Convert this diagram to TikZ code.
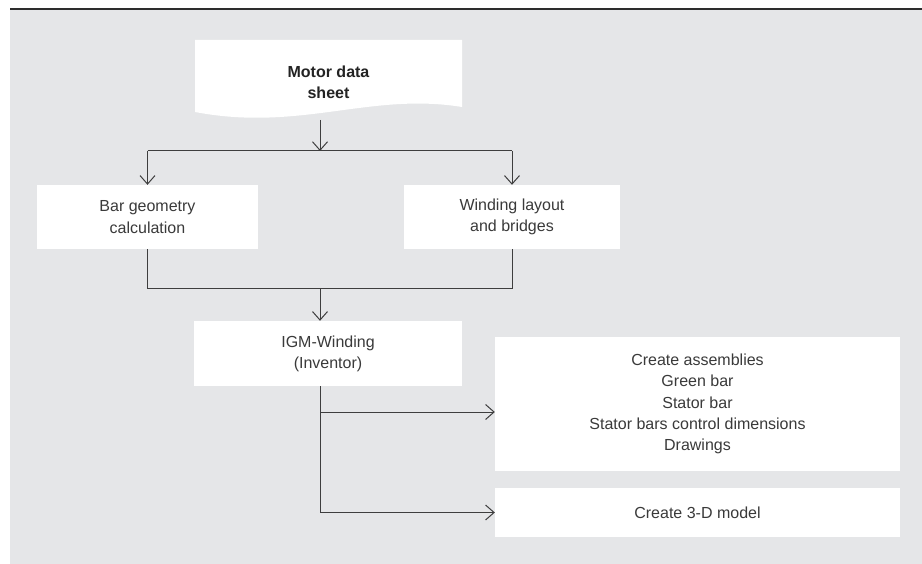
\documentclass[tikz,border=0pt]{standalone}
\usepackage{fontspec}
\setmainfont{Liberation Sans}
\usetikzlibrary{arrows.meta}
\definecolor{panel}{RGB}{229,230,232}
\definecolor{ink}{RGB}{62,62,62}
\definecolor{txt}{RGB}{58,58,58}
\definecolor{rule}{RGB}{45,45,45}
\begin{document}
\begin{tikzpicture}[x=1pt,y=-1pt,
  box/.style={fill=white, draw=none, inner sep=0pt, align=center,
    font=\fontsize{16}{21.25}\selectfont, text=txt},
  link/.style={draw=ink, line width=1pt},
  flow/.style={link, -{Straight Barb[length=8.5pt,width=15pt,line width=1pt]}}]
\useasboundingbox (0,0) rectangle (922,564);
% panel and top rule
\fill[panel] (10,9) rectangle (922,564);
\draw[rule, line width=1.6pt] (10,9) -- (922,9);

% document-shaped input with a wavy lower edge
\fill[white] (195,40) -- (462,40) -- (462,107)
  .. controls (370,92) and (300,132) .. (195,112) -- cycle;
\node[box, fill=none, font=\bfseries\fontsize{16}{21.25}\selectfont, text={rgb,255:red,35;green,35;blue,35}]
  (doc) at (328.5,82) {Motor data\\sheet};

% process boxes
\node[box, minimum width=221pt, minimum height=64pt] (bar)  at (147.5,217) {Bar geometry\\calculation};
\node[box, minimum width=216pt, minimum height=64pt] (wind) at (512,217)   {Winding layout\\and bridges};
\node[box, minimum width=268pt, minimum height=65pt] (igm)  at (328,353.5) {IGM-Winding\\(Inventor)};
\node[box, minimum width=405pt, minimum height=134pt] (asm) at (697.5,404)
  {Create assemblies\\Green bar\\Stator bar\\Stator bars control dimensions\\Drawings};
\node[box, minimum width=405pt, minimum height=49pt] (model) at (697.5,512.5) {Create 3-D model};

% connector junctions
\coordinate (docout) at (320,120);
\coordinate (split)  at (320,151);
\coordinate (merge)  at (320,289);
\coordinate (tap)    at (320,412);

% connectors
\draw[flow] (docout) -- (split);
\draw[link] (split -| bar.north) -- (split -| wind.north);
\draw[flow] (split -| bar.north) -- (bar.north);
\draw[flow] (split -| wind.north) -- (wind.north);
\draw[link] (bar.south) -- (bar.south |- merge) -- (wind.south |- merge) -- (wind.south);
\draw[flow] (merge) -- (merge |- igm.north);
\draw[link] (merge |- igm.south) -- (merge |- model.west);
\draw[flow] (tap) -- (tap -| asm.west);
\draw[flow] (merge |- model.west) -- (model.west);
\end{tikzpicture}
\end{document}
